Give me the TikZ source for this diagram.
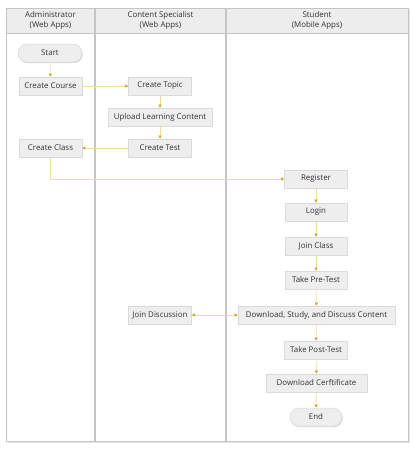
\documentclass[tikz,border=0pt]{standalone}
\usepackage{fontspec}
\setmainfont{Open Sans}
\usetikzlibrary{arrows.meta,shadows,positioning}
\definecolor{boxfill}{HTML}{EEEEEE}
\definecolor{boxline}{HTML}{DADADA}
\definecolor{lanefill}{HTML}{EDEDED}
\definecolor{laneline}{HTML}{C4C4C4}
\definecolor{flowline}{HTML}{EEDC9C}
\definecolor{flowtip}{HTML}{D2A62C}
\tikzset{
  actbox/.style={draw=boxline, fill=boxfill, line width=0.5pt, minimum height=18pt,
    inner sep=2pt, font=\fontsize{7.9}{9}\selectfont, text=black!80,
    drop shadow={shadow xshift=0.8pt, shadow yshift=-1.2pt, fill=black!30, opacity=0.45}},
  termbox/.style={actbox, rounded corners=9pt},
  flow/.style={draw=flowline, line width=0.6pt, -{Triangle[length=3.2pt,width=3.2pt,fill=flowtip,color=flowtip]}},
  flowboth/.style={draw=flowline, line width=0.6pt, {Triangle[length=3.2pt,width=3.2pt,fill=flowtip,color=flowtip]}-{Triangle[length=3.2pt,width=3.2pt,fill=flowtip,color=flowtip]}},
  lanehead/.style={font=\fontsize{7.9}{9.5}\selectfont, text=black!80, align=center}
}
\begin{document}
\begin{tikzpicture}[x=1pt,y=-1pt]
\useasboundingbox (0,0) rectangle (414,458);
% frame with shadow
\fill[black!10] (8,10) rectangle (410,443);
\fill[white] (6,8) rectangle (408,441);
\fill[lanefill] (6,8) rectangle (408,33);
\draw[laneline, line width=0.5pt] (6,8) rectangle (408,441);
\draw[laneline, line width=1pt] (6,33) -- (408,33);
\draw[laneline, line width=1.6pt] (95,8) -- (95,441);
\draw[laneline, line width=1.6pt] (226,8) -- (226,441);
\node[lanehead] (h1) at (50.5,20.5) {Administrator\\(Web Apps)};
\node[lanehead] (h2) at (160.5,20.5) {Content Specialist\\(Web Apps)};
\node[lanehead] (h3) at (317,20.5) {Student\\(Mobile Apps)};
% nodes
\node[termbox, minimum width=64pt] (start) at (50,53) {Start};
\node[actbox, minimum width=63pt] (course) at (50.5,86) {Create Course};
\node[actbox, minimum width=63pt] (topic) at (160,86) {Create Topic};
\node[actbox, minimum width=104pt] (upload) at (160,117) {Upload Learning Content};
\node[actbox, minimum width=63pt] (test) at (160,148) {Create Test};
\node[actbox, minimum width=63pt] (class) at (50.5,148) {Create Class};
\node[actbox, minimum width=63pt] (register) at (316,179) {Register};
\node[actbox, minimum width=62pt] (login) at (316,212) {Login};
\node[actbox, minimum width=62pt] (join) at (316,246) {Join Class};
\node[actbox, minimum width=62pt] (pre) at (316,280) {Take Pre-Test};
\node[actbox, minimum width=157pt] (study) at (316.5,315) {Download, Study, and Discuss Content};
\node[actbox, minimum width=63pt] (disc) at (160,315) {Join Discussion};
\node[actbox, minimum width=63pt] (post) at (316,350) {Take Post-Test};
\node[actbox, minimum width=101pt] (cert) at (316.5,383) {Download Cerftificate};
\node[termbox, minimum width=52pt] (end) at (316,417) {End};
% connectors
\draw[flow] (start) -- (course);
\draw[flow] (course) -- (topic);
\draw[flow] (topic) -- (upload);
\draw[flow] (upload) -- (test);
\draw[flow] (test) -- (class);
\draw[flow] (class.south) |- (register.west);
\draw[flow] (register) -- (login);
\draw[flow] (login) -- (join);
\draw[flow] (join) -- (pre);
\draw[flow] (pre) -- (study);
\draw[flowboth] (disc) -- (study);
\draw[flow] (study) -- (post);
\draw[flow] (post) -- (cert);
\draw[flow] (cert) -- (end);
\end{tikzpicture}
\end{document}
